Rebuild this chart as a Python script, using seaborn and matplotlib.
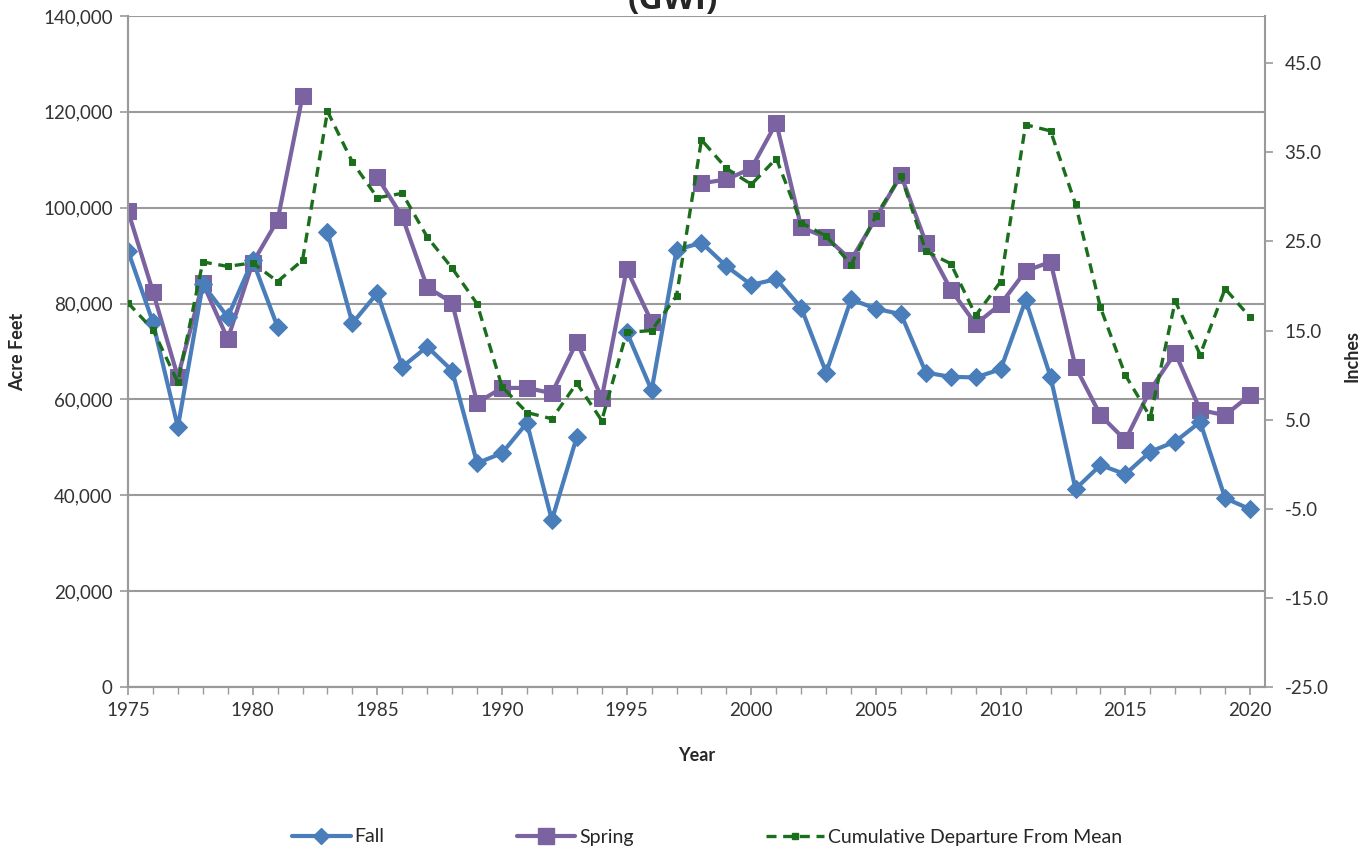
import numpy as np
import pandas as pd
import matplotlib
matplotlib.use('Agg')
import matplotlib.pyplot as plt
import seaborn as sns
from matplotlib.lines import Line2D
from matplotlib.ticker import FuncFormatter, MultipleLocator

# Dados
anos = list(range(1975, 2021))

outono = [91000, 76100, 54200, 84000, 77200, 89000, 75100, np.nan, 94900, 75900,
          82200, 66800, 71000, 66000, 46700, 48800, 55100, 34800, 52200, np.nan,
          74100, 61900, 91200, 92700, 87800, 83900, 85100, 79100, 65600, 80900,
          78900, 77800, 65600, 64700, 64600, 66300, 80700, 64700, 41300, 46300,
          44400, 49100, 51200, 55300, 39400, 37100]

primavera = [99300, 82500, 64700, 84300, 72600, 88500, 97400, 123300, np.nan, np.nan,
             106400, 98100, 83400, 80200, 59300, 62400, 62400, 61300, 72000, 60300,
             87200, 76200, np.nan, 105100, 105900, 108200, 117700, 95900, 93800, 89100,
             97900, 106800, 92700, 82900, 75700, 79900, 86800, 88700, 66800, 56700,
             51500, 62000, 69700, 57800, 56700, 60900]

desvio = [18.1, 15.1, 9.2, 22.7, 22.2, 22.6, 20.5, 22.9, 39.6, 33.9,
          29.9, 30.4, 25.5, 22.0, 18.0, 8.7, 5.8, 5.1, 9.1, 4.9,
          14.8, 15.0, 18.9, 36.4, 33.2, 31.4, 34.3, 27.1, 25.6, 22.4,
          27.9, 32.4, 23.9, 22.5, 16.7, 20.5, 38.1, 37.4, 29.2, 17.6,
          10.0, 5.3, 18.3, 12.3, 19.7, 16.5]

rotulos = ['Fall', 'Spring', 'Cumulative Departure From Mean']
cores = ['#4a7ebb', '#7b62a0', '#1b6e1b']


def segmentos(valores):
    # separa a série onde há valores ausentes (para deixar lacunas na linha)
    s = pd.Series(valores, dtype=float)
    df = pd.DataFrame({'ano': anos, 'valor': s, 'seg': s.isna().cumsum()})
    return df.dropna()


df_fall = segmentos(outono)
df_spring = segmentos(primavera)
df_dep = segmentos(desvio)

sns.set_style('white')
plt.rcParams['font.family'] = ['Lato', 'DejaVu Sans']

fig = plt.figure(figsize=(13.65, 8.51), dpi=100)
ax = fig.add_axes([128 / 1365, 1 - 687 / 851, (1265 - 128) / 1365, (687 - 16) / 851])
ax2 = ax.twinx()

cinza = '#9a9a9a'

# Linhas principais
sns.lineplot(data=df_fall, x='ano', y='valor', units='seg', estimator=None,
             color=cores[0], lw=3, marker='D', markersize=9,
             markeredgecolor=cores[0], ax=ax, zorder=3)
sns.lineplot(data=df_spring, x='ano', y='valor', units='seg', estimator=None,
             color=cores[1], lw=3, marker='s', markersize=12,
             markeredgecolor=cores[1], ax=ax, zorder=2)
sns.lineplot(data=df_dep, x='ano', y='valor', units='seg', estimator=None,
             color=cores[2], lw=2.4, ls=(0, (3, 2)), marker='s', markersize=5,
             markeredgecolor=cores[2], ax=ax2, zorder=4)

ax2.set_zorder(ax.get_zorder() + 1)
ax2.patch.set_visible(False)

# Eixo esquerdo
ax.set_xlim(1975, 2020.6)
ax.set_ylim(0, 140000)
ax.yaxis.set_major_locator(MultipleLocator(20000))
ax.yaxis.set_major_formatter(FuncFormatter(lambda v, p: f'{int(v):,}'))
ax.xaxis.set_major_locator(MultipleLocator(5))
ax.xaxis.set_minor_locator(MultipleLocator(1))
ax.grid(axis='y', color=cinza, lw=1.5)
ax.set_axisbelow(True)

# Eixo direito
ax2.set_ylim(-25, 50.3)
ax2.set_yticks(np.arange(-25, 46, 10))
ax2.yaxis.set_major_formatter(FuncFormatter(lambda v, p: f'{v:.1f}'))

for a in (ax, ax2):
    for lado in a.spines.values():
        lado.set_color(cinza)
        lado.set_linewidth(1.5)
    a.spines['top'].set_visible(False)
    a.tick_params(colors='#333333', labelsize=13.5, length=6, width=1.2,
                  color=cinza, direction='out')
ax.spines['right'].set_visible(False)
ax.tick_params(axis='x', which='minor', length=5, width=1.0, color=cinza,
               direction='out', bottom=True)
ax.tick_params(axis='x', pad=5, bottom=True)
ax.tick_params(axis='y', left=True, pad=5)
ax2.tick_params(axis='y', right=True, pad=8)

ax.set_xlabel('Year', fontsize=13, fontweight='bold', labelpad=20)
ax.set_ylabel('Acre Feet', fontsize=13, fontweight='bold', labelpad=12)
ax2.set_ylabel('')
fig.text(1352 / 1365, 1 - 356 / 851, 'Inches', rotation=90, fontsize=13,
         fontweight='bold', ha='center', va='center')

# Título (cortado no topo)
fig.text(0.493, 1 - 9 / 851, '(GWI)', fontsize=24, fontweight='bold',
         ha='center', va='baseline', family=['Open Sans', 'DejaVu Sans'])

# Legenda
handles = [
    Line2D([], [], color=cores[0], lw=3, marker='D', markersize=8),
    Line2D([], [], color=cores[1], lw=3, marker='s', markersize=11),
    Line2D([], [], color=cores[2], lw=2.4, ls=(0, (3, 2)), marker='s', markersize=5),
]
fig.legend(handles, rotulos, loc='center', bbox_to_anchor=(0.518, 1 - 837 / 851),
           ncol=3, frameon=False, fontsize=14, handlelength=3,
           columnspacing=6.8, handletextpad=0.2)

fig.savefig('out.png', dpi=100)
